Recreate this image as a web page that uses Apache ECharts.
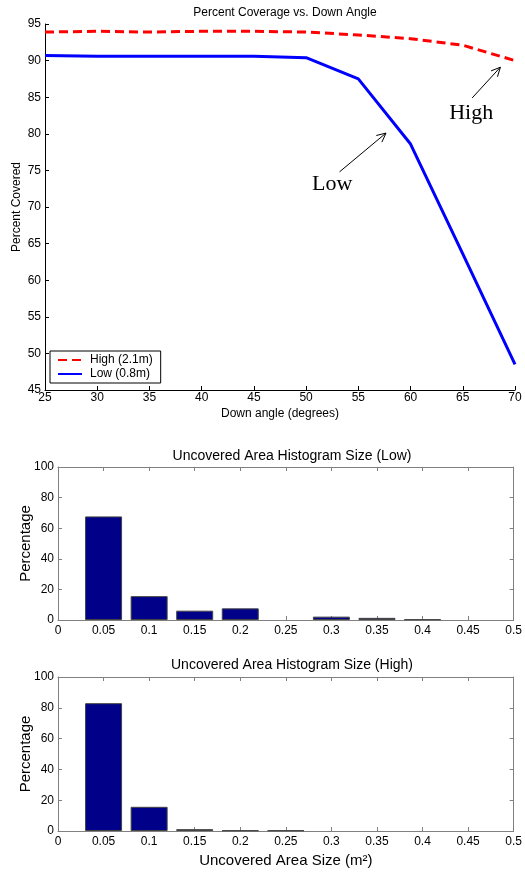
<!DOCTYPE html>
<html>
<head>
<meta charset="utf-8">
<script src="https://cdn.jsdelivr.net/npm/echarts@6/dist/echarts.min.js"></script>
<style>
html,body{margin:0;padding:0;background:#fff;}
#main{width:525px;height:878px;}
</style>
</head>
<body>
<div id="main"></div>
<script>
// 覆盖率 vs 下倾角
var angles = [25, 30, 35, 40, 45, 50, 55, 60, 65, 70];
var highCover = [93.9, 94.0, 93.9, 94.0, 94.0, 93.9, 93.5, 93.0, 92.1, 90.0];
var lowCover = [90.7, 90.6, 90.6, 90.6, 90.6, 90.4, 87.5, 78.6, 63.6, 48.5];

// 直方图
var binCenters = [0.05, 0.1, 0.15, 0.2, 0.25, 0.3, 0.35, 0.4, 0.45];
var histLow = [67.7, 15.6, 6.1, 7.6, 0, 2.2, 1.4, 0.4, 0];
var histHigh = [83.0, 15.7, 1.2, 0.4, 0.4, 0, 0, 0, 0];

// 标注
var annoNames = ['High', 'Low'];
var annoFrom = [[65.9, 84.9], [53.2, 74.8]];
var annoTo = [[68.6, 89.1], [57.65, 80.1]];
var annoTextAt = [[65.8, 84.3], [52.5, 74.6]];

var FONT = 'Liberation Sans';

function pairs(xs, ys, skipZero) {
    var out = [];
    for (var i = 0; i < xs.length; i++) {
        if (skipZero && !ys[i]) continue;
        out.push([xs[i], ys[i]]);
    }
    return out;
}

var myChart = echarts.init(document.getElementById('main'));

var histX = function (gi, show) {
    return {
        type: 'value', gridIndex: gi, min: 0, max: 0.5, interval: 0.05,
        position: show ? 'bottom' : 'top',
        axisLine: {show: true, onZero: false, lineStyle: {color: '#808080', width: 1}},
        axisTick: {show: true, inside: true, length: 4, lineStyle: {color: '#808080'}},
        axisLabel: {show: show, color: '#000', fontFamily: FONT, fontSize: 12, margin: 5},
        splitLine: {show: false}
    };
};
var histY = function (gi, show) {
    return {
        type: 'value', gridIndex: gi, min: 0, max: 100, interval: 20,
        position: show ? 'left' : 'right',
        name: show ? 'Percentage' : '', nameLocation: 'middle', nameGap: 25,
        nameMoveOverlap: false,
        nameTextStyle: {color: '#000', fontFamily: FONT, fontSize: 15},
        axisLine: {show: true, onZero: false, lineStyle: {color: '#808080', width: 1}},
        axisTick: {show: true, inside: true, length: 4, lineStyle: {color: '#808080'}},
        axisLabel: {show: show, color: '#000', fontFamily: FONT, fontSize: 12, margin: 4},
        splitLine: {show: false}
    };
};

var xHist2 = histX(2, true);
xHist2.name = 'Uncovered Area Size (m²)';
xHist2.nameLocation = 'middle';
xHist2.nameGap = 22;
xHist2.nameTextStyle = {color: '#000', fontFamily: FONT, fontSize: 15};

var option = {
    animation: false,
    backgroundColor: '#fff',
    title: [
        {text: 'Percent Coverage vs. Down Angle', left: 280, textAlign: 'center', top: 2,
            textStyle: {fontFamily: FONT, fontSize: 12, fontWeight: 'normal', color: '#000'}},
        {text: 'Uncovered Area Histogram Size (Low)', left: 287, textAlign: 'center', top: 444,
            textStyle: {fontFamily: FONT, fontSize: 14, fontWeight: 'normal', color: '#000'}},
        {text: 'Uncovered Area Histogram Size (High)', left: 287, textAlign: 'center', top: 653,
            textStyle: {fontFamily: FONT, fontSize: 14, fontWeight: 'normal', color: '#000'}}
    ],
    legend: {
        data: ['High (2.1m)', 'Low (0.8m)'],
        orient: 'vertical', left: 50, top: 351,
        itemWidth: 24, itemHeight: 10, itemGap: 2,
        padding: [3, 8, 3, 7],
        borderColor: '#000', borderWidth: 1, backgroundColor: '#fff',
        itemStyle: {opacity: 0},
        textStyle: {fontFamily: FONT, fontSize: 12, color: '#000', padding: [0, 0, 0, 3]}
    },
    grid: [
        {left: 45, right: 10, top: 24, height: 366},
        {left: 58, right: 7, top: 467, height: 153},
        {left: 58, right: 7, top: 677, height: 154}
    ],
    xAxis: [
        {
            type: 'value', gridIndex: 0, min: 25, max: 70, interval: 5,
            name: 'Down angle (degrees)', nameLocation: 'middle', nameGap: 18,
            nameTextStyle: {color: '#000', fontFamily: FONT, fontSize: 12},
            axisLine: {onZero: false, lineStyle: {color: '#000', width: 1}},
            axisTick: {inside: true, length: 4, lineStyle: {color: '#000'}},
            axisLabel: {color: '#000', fontFamily: FONT, fontSize: 12, margin: 2},
            splitLine: {show: false}
        },
        histX(1, true), histX(1, false),
        xHist2, histX(2, false)
    ],
    yAxis: [
        {
            type: 'value', gridIndex: 0, min: 45, max: 95, interval: 5,
            name: 'Percent Covered', nameLocation: 'middle', nameGap: 22,
            nameMoveOverlap: false,
            nameTextStyle: {color: '#000', fontFamily: FONT, fontSize: 12},
            axisLine: {show: true, onZero: false, lineStyle: {color: '#000', width: 1}},
            axisTick: {show: true, inside: true, length: 4, lineStyle: {color: '#000'}},
            axisLabel: {color: '#000', fontFamily: FONT, fontSize: 12, margin: 4},
            splitLine: {show: false}
        },
        histY(1, true), histY(1, false),
        histY(2, true), histY(2, false)
    ],
    series: [
        {
            name: 'High (2.1m)', type: 'line', xAxisIndex: 0, yAxisIndex: 0,
            data: pairs(angles, highCover), symbol: 'none',
            lineStyle: {color: '#ff0000', width: 3, type: [9, 5]},
            itemStyle: {color: '#ff0000'}
        },
        {
            name: 'Low (0.8m)', type: 'line', xAxisIndex: 0, yAxisIndex: 0,
            data: pairs(angles, lowCover), symbol: 'none',
            lineStyle: {color: '#0000ff', width: 3},
            itemStyle: {color: '#0000ff'}
        },
        {
            type: 'bar', xAxisIndex: 1, yAxisIndex: 1,
            data: pairs(binCenters, histLow, true), barWidth: 37,
            itemStyle: {color: '#000088', borderColor: '#444', borderWidth: 1}
        },
        {
            type: 'bar', xAxisIndex: 3, yAxisIndex: 3,
            data: pairs(binCenters, histHigh, true), barWidth: 37,
            itemStyle: {color: '#000088', borderColor: '#444', borderWidth: 1}
        }
    ]
};

myChart.setOption(option);

// 箭头标注
var elements = [];
for (var i = 0; i < annoNames.length; i++) {
    var p0 = myChart.convertToPixel({gridIndex: 0}, annoFrom[i]);
    var p1 = myChart.convertToPixel({gridIndex: 0}, annoTo[i]);
    var pt = myChart.convertToPixel({gridIndex: 0}, annoTextAt[i]);
    var ang = Math.atan2(p1[1] - p0[1], p1[0] - p0[0]);
    var hl = 10, ha = 0.45;
    var h1 = [p1[0] - hl * Math.cos(ang - ha), p1[1] - hl * Math.sin(ang - ha)];
    var h2 = [p1[0] - hl * Math.cos(ang + ha), p1[1] - hl * Math.sin(ang + ha)];
    elements.push({type: 'line', shape: {x1: p0[0], y1: p0[1], x2: p1[0], y2: p1[1]},
        style: {stroke: '#000', lineWidth: 1}});
    elements.push({type: 'polyline', shape: {points: [h1, p1, h2]},
        style: {stroke: '#000', lineWidth: 1, fill: null}});
    elements.push({type: 'text', x: pt[0], y: pt[1],
        style: {text: annoNames[i], fontFamily: 'Liberation Serif', fontSize: 22,
            fill: '#000', align: 'center', verticalAlign: 'top'}});
}
myChart.setOption({graphic: elements});
</script>
</body>
</html>
